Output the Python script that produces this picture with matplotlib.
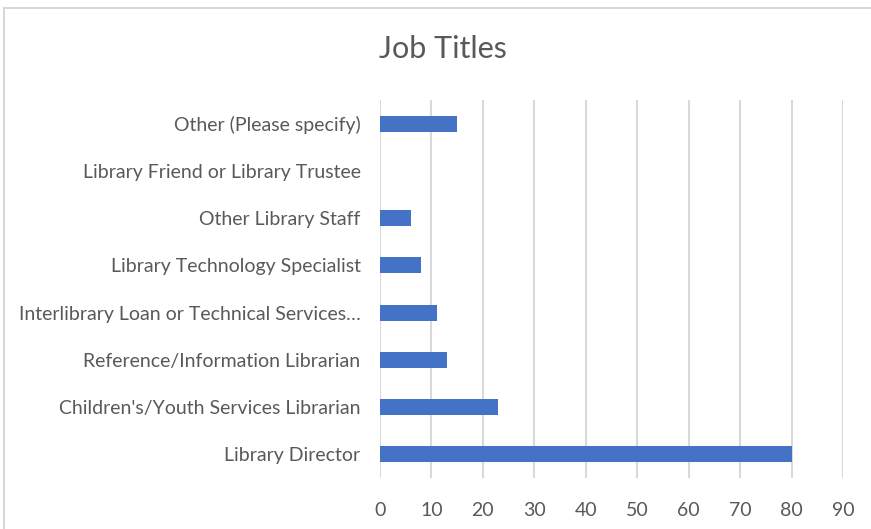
import matplotlib.pyplot as plt
from matplotlib.lines import Line2D

categories = [
    "Library Director",
    "Children's/Youth Services Librarian",
    "Reference/Information Librarian",
    "Interlibrary Loan or Technical Services\u2026",
    "Library Technology Specialist",
    "Other Library Staff",
    "Library Friend or Library Trustee",
    "Other (Please specify)",
]
counts = [80, 23, 13, 11, 8, 6, 0, 15]
x_ticks = list(range(0, 100, 10))

plt.rcParams['font.family'] = ['Lato', 'DejaVu Sans']

fig = plt.figure(figsize=(8.71, 5.29), dpi=100)
ax = fig.add_axes([380 / 871, 1 - 478 / 529, 463 / 871, 378 / 529])

ax.barh(range(len(categories)), counts, height=0.34, color='#4472C4', zorder=3)

ax.set_xlim(0, 90)
ax.set_ylim(-0.5, len(categories) - 0.5)
ax.set_xticks(x_ticks)
ax.set_yticks(range(len(categories)))
ax.set_yticklabels(categories)
ax.grid(axis='x', color='#d9d9d9', linewidth=1.5, zorder=0)
for s in ax.spines.values():
    s.set_visible(False)
ax.tick_params(axis='both', length=0, colors='#595959', labelsize=14)
ax.tick_params(axis='y', pad=14)
ax.tick_params(axis='x', pad=17)

fig.text(443 / 871, 1 - 49 / 529, "Job Titles", ha='center', va='center',
         fontsize=22, color='#595959')

# outer chart frame (top and left edges visible)
fig.add_artist(Line2D([4 / 871, 4 / 871], [0, 1 - 8 / 529], color='#d0d0d0', linewidth=1.2))
fig.add_artist(Line2D([4 / 871, 1], [1 - 8 / 529, 1 - 8 / 529], color='#d0d0d0', linewidth=1.2))

fig.savefig('out.png', dpi=100)
